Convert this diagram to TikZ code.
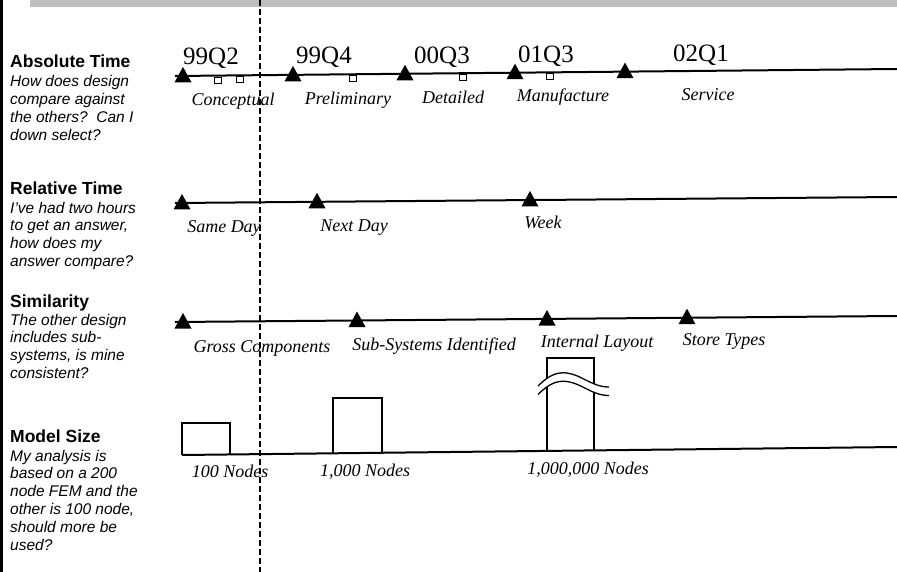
\documentclass[tikz,border=0pt]{standalone}
\usepackage{fontspec}
\setmainfont{Liberation Serif}
\setsansfont{Liberation Sans}
\usetikzlibrary{positioning}

\tikzset{
  head/.style={anchor=base west, inner sep=0pt, font=\sffamily\bfseries\fontsize{17.5}{18}\selectfont},
  qtext/.style={anchor=base west, inner sep=0pt, align=left, font=\sffamily\itshape\fontsize{15.5}{17.9}\selectfont},
  qtr/.style={anchor=base, inner sep=0pt, font=\fontsize{25}{25}\selectfont},
  phase/.style={anchor=base, inner sep=0pt, font=\itshape\fontsize{18}{18}\selectfont},
  tline/.style={line width=2pt},
  bar/.style={line width=1.6pt},
}
% milestone triangle and small review box on a time line
\newcommand{\mtri}[2]{\fill (#1-8.5,#2+6.5) -- (#1+8.5,#2+6.5) -- (#1,#2-9) -- cycle;}
\newcommand{\msq}[2]{\draw[line width=1.1pt, fill=white] (#1-3.5,#2+1.5) rectangle (#1+3.5,#2+7.5);}

\begin{document}
\begin{tikzpicture}[x=1pt, y=-1pt]
  \useasboundingbox (0,0) rectangle (897,572);
  % scan edges
  \fill[black!25] (30,0) rectangle (897,7);
  \fill (0,0) rectangle (2.5,572);

  % left column (body nodes sit on their last line)
  \node[head] (abshead) at (10,68) {Absolute Time};
  \node[qtext] (absq) at (10,140.7) {How does design\\compare against\\the others?\ \ Can I\\down select?};
  \node[head] (relhead) at (10,195) {Relative Time};
  \node[qtext] (relq) at (10,266.7) {I've had two hours\\to get an answer,\\how does my\\answer compare?};
  \node[head] (simhead) at (10,307) {Similarity};
  \node[qtext] (simq) at (10,378.7) {The other design\\includes sub-\\systems, is mine\\consistent?};
  \node[head] (sizehead) at (10,442) {Model Size};
  \node[qtext] (sizeq) at (10,550.5) {My analysis is\\based on a 200\\node FEM and the\\other is 100 node,\\should more be\\used?};

  % absolute time
  \draw[tline] (175,76) -- (897,69);
  \mtri{183}{75.9} \mtri{293}{74.9} \mtri{405}{73.8} \mtri{515}{72.7} \mtri{625}{71.6}
  \msq{218}{75.6} \msq{240}{75.4} \msq{353}{74.3} \msq{463}{73.2} \msq{550}{72.4}
  \node[qtr] (q992) at (211,65) {99Q2};
  \node[qtr] (q994) at (324,64) {99Q4};
  \node[qtr] (q003) at (442,63.5) {00Q3};
  \node[qtr] (q013) at (546,63) {01Q3};
  \node[qtr] (q021) at (701,62) {02Q1};
  \node[phase] (conc) at (233,106) {Conceptual};
  \node[phase] (prel) at (348,105) {Preliminary};
  \node[phase] (detl) at (453,104) {Detailed};
  \node[phase] (manf) at (563,102) {Manufacture};
  \node[phase] (serv) at (708,101) {Service};

  % relative time
  \draw[tline] (175,203) -- (897,197);
  \mtri{182}{203} \mtri{317}{201.8} \mtri{530}{200}
  \node[phase] (sday) at (224,233) {Same Day};
  \node[phase] (nday) at (354,232) {Next Day};
  \node[phase] (week) at (543,229) {Week};

  % similarity
  \draw[tline] (175,322) -- (897,316);
  \mtri{183}{322} \mtri{357}{320.5} \mtri{547}{319} \mtri{687}{317.7}
  \node[phase] (gross) at (262,352) {Gross Components};
  \node[phase] (subsys) at (434,350) {Sub-Systems Identified};
  \node[phase] (intl) at (597,347) {Internal Layout};
  \node[phase] (store) at (724,345) {Store Types};

  % model size
  \draw[tline] (182,455) -- (897,447);
  \draw[bar] (182,455) -- (182,423) -- (230,423) -- (230,454.5);
  \draw[bar] (333,453.3) -- (333,398) -- (382,398) -- (382,452.8);
  \draw[bar] (547,450.9) -- (547,358) -- (594,358) -- (594,450.4);
  \fill[white] (538,386) .. controls (550,374) and (558,372) .. (567,373) .. controls (582,375) and (592,387) .. (609,387)
    -- (609,395.5) .. controls (592,395.5) and (582,383.5) .. (567,381.5) .. controls (558,380.5) and (550,382.5) .. (538,394.5) -- cycle;
  \draw[line width=1.3pt] (538,386) .. controls (550,374) and (558,372) .. (567,373) .. controls (582,375) and (592,387) .. (609,387);
  \draw[line width=1.3pt] (538,394.5) .. controls (550,382.5) and (558,380.5) .. (567,381.5) .. controls (582,383.5) and (592,395.5) .. (609,395.5);
  \node[phase] (n100) at (230,477) {100 Nodes};
  \node[phase] (n1k) at (365,476) {1,000 Nodes};
  \node[phase] (n1m) at (588,474) {1,000,000 Nodes};

  % cut-off line
  \draw[line width=1.4pt, dash pattern=on 6pt off 3pt] (260,0) -- (260,572);
\end{tikzpicture}
\end{document}
